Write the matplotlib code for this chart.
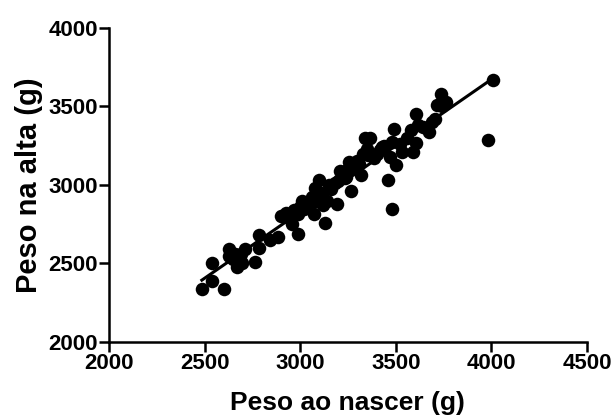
import numpy as np
import matplotlib
matplotlib.use("Agg")
import matplotlib.pyplot as plt

plt.rcParams["font.family"] = ["Liberation Sans", "DejaVu Sans"]
plt.rcParams["font.weight"] = "bold"

# birth weight vs discharge weight (g)
peso_nascer = [2486, 2540, 2540, 2603, 2630, 2660, 2630, 2670, 2697, 2713,
               2763, 2783, 2787, 2845, 2886, 2902, 2927, 2958, 2988, 2988,
               3009, 3019, 3050, 3070, 3080, 3101, 3128, 3142, 3163, 3193,
               3198, 3210, 3235, 3255, 3265, 3286, 3316, 3337, 3357, 3367,
               3388, 3419, 3460, 3480, 3491, 3480, 3501, 3532, 3593, 3604,
               3604, 3614, 3645, 3675, 3706, 3716, 3737, 3762, 3983, 4009,
               2950, 2970, 3000, 3030, 3060, 3090, 3110, 3150, 3180, 3220,
               3250, 3280, 3300, 3330, 3350, 3400, 3440, 3470, 3520, 3560,
               2650, 2690, 2940, 3120, 3240, 3310, 3430, 3580, 3690, 3740]
peso_alta = [2335, 2500, 2385, 2340, 2590, 2560, 2545, 2480, 2500, 2590,
             2510, 2680, 2600, 2650, 2666, 2800, 2820, 2750, 2687, 2813,
             2897, 2845, 2876, 2813, 2981, 3034, 2760, 2897, 2971, 2876,
             3025, 3086, 3044, 3149, 2960, 3107, 3065, 3296, 3191, 3296,
             3170, 3223, 3034, 2845, 3359, 3275, 3128, 3212, 3212, 3265,
             3454, 3380, 3370, 3338, 3422, 3506, 3580, 3527, 3286, 3670,
             2780, 2840, 2860, 2880, 2920, 2900, 2950, 3000, 3010, 3080,
             3100, 3120, 3150, 3200, 3230, 3200, 3250, 3180, 3260, 3300,
             2530, 2560, 2790, 2870, 3050, 3130, 3240, 3350, 3400, 3500]

x = np.array(peso_nascer)
y = np.array(peso_alta)

fig = plt.figure(figsize=(6.12, 4.16), dpi=100)
ax = fig.add_axes([0.178, 0.178, 0.781, 0.755])

ax.scatter(x, y, s=95, color="black", zorder=3, linewidths=0)

# linear regression line
a, b = np.polyfit(x, y, 1)
xs = np.array([x.min(), x.max()])
ax.plot(xs, a * xs + b, color="black", linewidth=2.2, zorder=4)

ax.set_xlim(2000, 4500)
ax.set_ylim(2000, 4000)
ax.set_xticks([2000, 2500, 3000, 3500, 4000, 4500])
ax.set_yticks([2000, 2500, 3000, 3500, 4000])

ax.spines["top"].set_visible(False)
ax.spines["right"].set_visible(False)
ax.spines["left"].set_linewidth(1.8)
ax.spines["bottom"].set_linewidth(1.8)
ax.tick_params(direction="out", length=7, width=1.8, labelsize=16, pad=1)

ax.set_xlabel("Peso ao nascer (g)", fontsize=19, fontweight="bold", labelpad=12)
ax.set_ylabel("Peso na alta (g)", fontsize=21, fontweight="bold", labelpad=4)

fig.savefig("out.png", dpi=100)
